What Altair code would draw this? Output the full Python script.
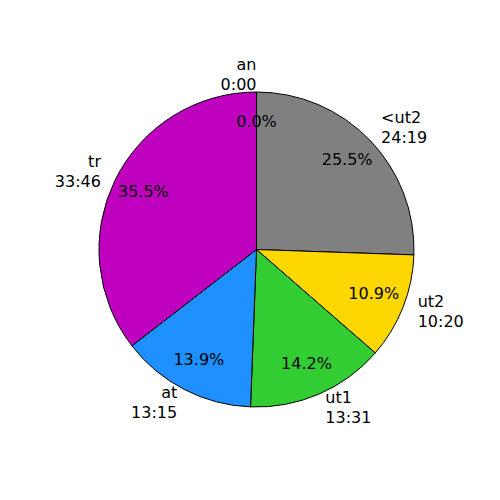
import altair as alt
import pandas as pd

labels = ["an", "<ut2", "ut2", "ut1", "at", "tr"]
times = ["0:00", "24:19", "10:20", "13:31", "13:15", "33:46"]
colors = ["#FFFFFF", "#808080", "#FFD700", "#32CD32", "#1E90FF", "#BF00BF"]

def to_sec(t):
    m, s = t.split(":")
    return int(m) * 60 + int(s)

df = pd.DataFrame({
    "i": list(range(len(labels))),
    "lab": labels,
    "time": times,
    "sec": [to_sec(t) for t in times],
})

CX, CY, R = 248.5, 241.5, 157.5
FONT = "DejaVu Sans"

base = alt.Chart(df).transform_window(
    cum="sum(sec)", sort=[{"field": "i"}], frame=[None, 0]
).transform_joinaggregate(
    total="sum(sec)"
).transform_calculate(
    t1="2*PI*datum.cum/datum.total",
    t0="2*PI*(datum.cum-datum.sec)/datum.total",
).transform_calculate(
    mid="(datum.t0+datum.t1)/2",
    pct="format(datum.sec/datum.total, '.1%')",
    txt="datum.lab + '\\n' + datum.time",
)

arcs = base.mark_arc(radius=R, stroke="black", strokeWidth=1).encode(
    theta=alt.Theta("t0:Q", scale=None),
    theta2="t1:Q",
    color=alt.Color("lab:N", scale=alt.Scale(domain=labels, range=colors), legend=None),
    x=alt.value(CX), y=alt.value(CY),
)

pcts = base.mark_text(fontSize=16, font=FONT, color="black", baseline="middle", align="center", dy=-1.5).encode(
    theta=alt.Theta("mid:Q", scale=None),
    radius=alt.value(R * 0.8),
    text="pct:N",
    x=alt.value(CX), y=alt.value(CY),
)

lab_left = base.transform_filter("sin(datum.mid) > 0").mark_text(
    fontSize=16, font=FONT, color="black", baseline="middle", align="left", lineBreak="\n", lineHeight=20, dy=-11
).encode(
    theta=alt.Theta("mid:Q", scale=None),
    radius=alt.value(R * 1.1),
    text="txt:N",
    x=alt.value(CX), y=alt.value(CY),
)

lab_right = base.transform_filter("sin(datum.mid) <= 0").mark_text(
    fontSize=16, font=FONT, color="black", baseline="middle", align="right", lineBreak="\n", lineHeight=20, dy=-11
).encode(
    theta=alt.Theta("mid:Q", scale=None),
    radius=alt.value(R * 1.1),
    text="txt:N",
    x=alt.value(CX), y=alt.value(CY),
)

chart = alt.layer(arcs, pcts, lab_left, lab_right).properties(
    width=484, height=484, padding=0, autosize="none"
).configure_view(stroke=None)

chart.save("out.html", embed_options={"renderer": "svg", "actions": False})
